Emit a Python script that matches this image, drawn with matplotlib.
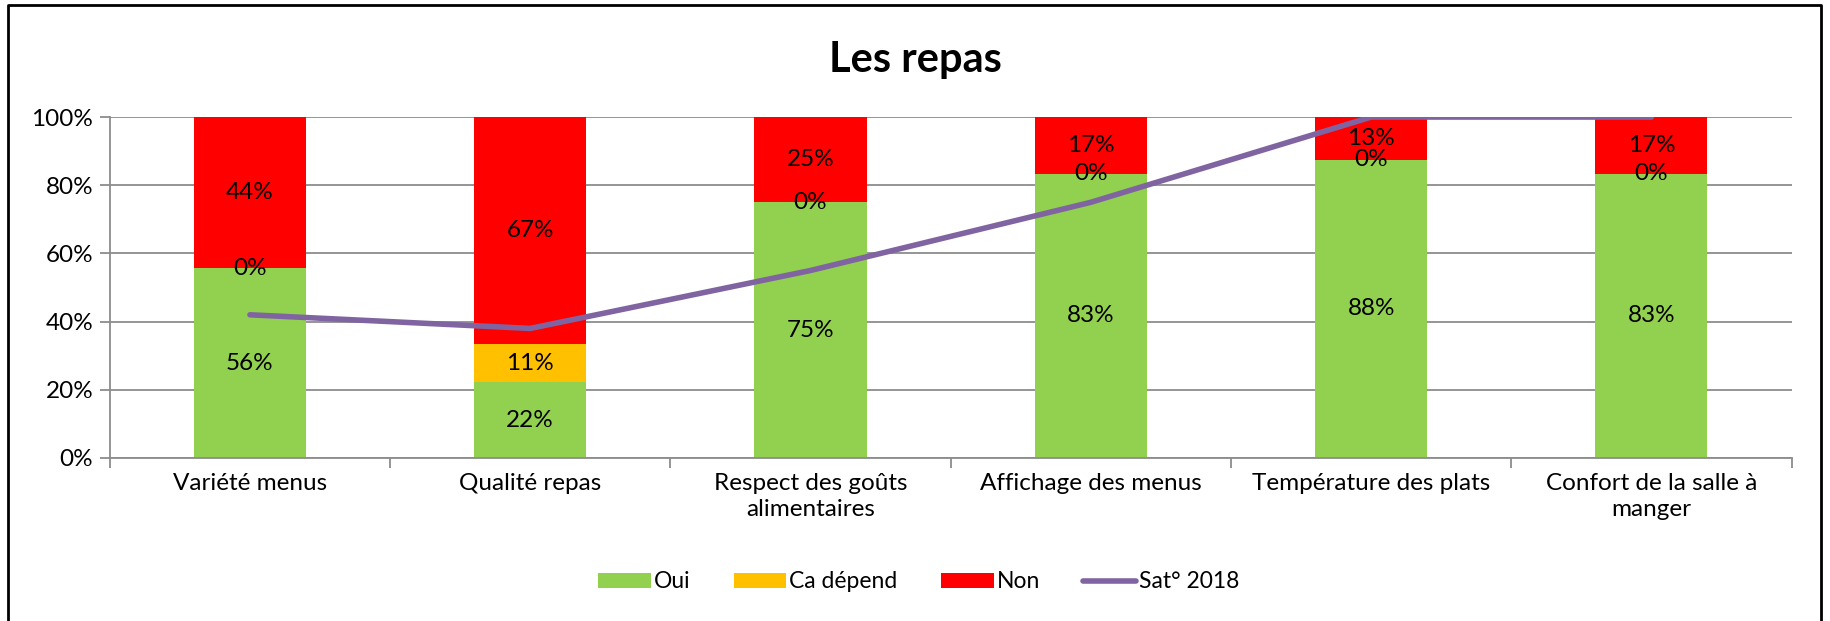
import numpy as np
import matplotlib
matplotlib.use("Agg")
import matplotlib.pyplot as plt
from matplotlib.lines import Line2D

plt.rcParams['font.family'] = ['Lato', 'DejaVu Sans']

categories = ["Variété menus", "Qualité repas", "Respect des goûts\nalimentaires",
              "Affichage des menus", "Température des plats", "Confort de la salle à\nmanger"]
oui = [0.556, 0.222, 0.75, 0.833, 0.875, 0.833]
depend = [0.0, 0.111, 0.0, 0.0, 0.0, 0.0]
non = [0.444, 0.667, 0.25, 0.167, 0.125, 0.167]
sat_2018 = [0.42, 0.38, 0.55, 0.75, 1.0, 1.0]

GREEN = "#92D050"
ORANGE = "#FFC000"
RED = "#FF0000"
PURPLE = "#8064A2"
GRID = "#8C8C8C"
FS = 17.5

fig = plt.figure(figsize=(18.3, 6.21), dpi=100)
ax = fig.add_axes([0.060, 0.2625, 0.919, 0.549])

x = np.arange(len(categories))
w = 0.4
oui_a = np.array(oui)
dep_a = np.array(depend)
non_a = np.array(non)

b1 = ax.bar(x, oui_a, w, color=GREEN, label="Oui", zorder=2)
b2 = ax.bar(x, dep_a, w, bottom=oui_a, color=ORANGE, label="Ca dépend", zorder=2)
b3 = ax.bar(x, non_a, w, bottom=oui_a + dep_a, color=RED, label="Non", zorder=2)

# data labels centred in each segment (round half up like Excel)
for vals, bottoms in [(oui_a, np.zeros(6)), (dep_a, oui_a), (non_a, oui_a + dep_a)]:
    for xi, v, b in zip(x, vals, bottoms):
        ax.text(xi, b + v / 2, f"{int(v * 100 + 0.5)}%", ha="center", va="center",
                fontsize=FS, color="black", zorder=4)

ax.plot(x, sat_2018, color=PURPLE, lw=4, solid_capstyle="round",
        label="Sat° 2018", zorder=3)

ax.set_xlim(-0.5, len(categories) - 0.5)
ax.set_ylim(0, 1)
ax.set_yticks(np.arange(0, 1.01, 0.2))
ax.set_yticklabels([f"{int(round(v * 100))}%" for v in np.arange(0, 1.01, 0.2)])
ax.yaxis.grid(True, color=GRID, lw=1.3, zorder=0)
ax.set_axisbelow(True)

# category ticks at boundaries, labels at centres
ax.set_xticks(np.arange(-0.5, len(categories)), minor=False)
ax.set_xticklabels([])
ax.set_xticks(x, minor=True)
ax.set_xticklabels(categories, minor=True, fontsize=FS, linespacing=1.3)
ax.tick_params(axis="x", which="minor", length=0, pad=11)
ax.tick_params(axis="x", which="major", length=7, color=GRID, width=1.3)
ax.tick_params(axis="y", length=7, color=GRID, width=1.3, labelsize=FS, pad=5)

for s in ["top", "right"]:
    ax.spines[s].set_visible(False)
for s in ["left", "bottom"]:
    ax.spines[s].set_color(GRID)
    ax.spines[s].set_linewidth(1.3)

fig.text(0.5, 0.903, "Les repas", ha="center", va="center",
         fontsize=30, fontweight="bold")

handles = [b1, b2, b3, ax.lines[0]]
fig.legend(handles, ["Oui", "Ca dépend", "Non", "Sat° 2018"], loc="center",
           bbox_to_anchor=(0.502, 0.063), ncol=4, frameon=False, fontsize=16.5,
           handlelength=2.3, handleheight=0.65, handletextpad=0.12, columnspacing=1.9)

# outer chart frame
fig.add_artist(Line2D([0.0045, 0.0045, 0.995, 0.995], [0.0, 0.992, 0.992, 0.0],
                      transform=fig.transFigure, color="black", lw=2))

fig.savefig("out.png", dpi=100)
